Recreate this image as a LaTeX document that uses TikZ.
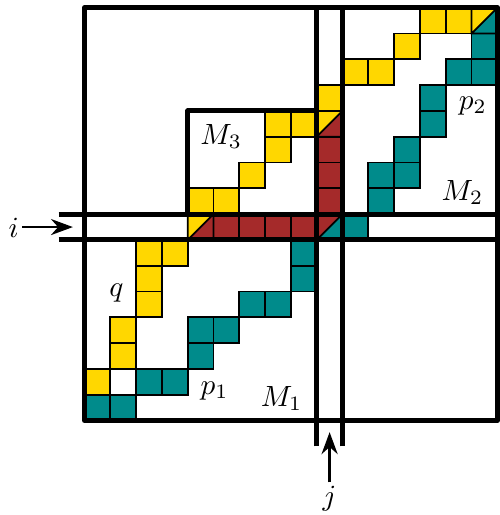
\documentclass[tikz,border=0pt]{standalone}
\usepackage{tikz}
\usetikzlibrary{arrows.meta}
\definecolor{qyellow}{RGB}{255,215,0}
\definecolor{pteal}{RGB}{0,139,139}
\definecolor{mred}{RGB}{165,42,42}
\tikzset{
	cellbox/.style={draw, semithick},
	wall/.style={line width=1.7pt, line join=round}
}
\tikzset{
	lbl/.style={inner sep=1pt}
}
% half-filled cell: #1,#2 = lower-left corner, #3 upper colour, #4 lower colour
\newcommand{\halfcell}[4]{%
  \fill[#3] (#1,#2) -- ++(0,1) -- ++(1,0) -- cycle;
  \fill[#4] (#1,#2) -- ++(1,0) -- ++(0,1) -- cycle;
  \draw[semithick] (#1,#2) rectangle ++(1,1) (#1,#2) -- ++(1,1);
}

\begin{document}
\begin{tikzpicture}[x=0.31cm, y=0.31cm, >={Stealth[length=7.5pt, width=5.5pt]}]
      \useasboundingbox (-3.275,-3.66) rectangle (16.1,16.3);
      % path q
      \foreach \c/\r in {0/1,1/2,1/3,2/4,2/5,2/6,3/6,4/8,5/8,6/9,7/10,7/11,8/11,9/12,10/13,11/13,12/14,13/15,14/15}
        \draw[cellbox, fill=qyellow] (\c,\r) rectangle ++(1,1);
      % path p
      \foreach \c/\r in {0/0,1/0,2/1,3/1,4/2,4/3,5/3,6/4,7/4,8/5,8/6,10/7,11/8,11/9,12/9,12/10,13/11,13/12,14/13,15/13,15/14}
        \draw[cellbox, fill=pteal] (\c,\r) rectangle ++(1,1);
      % shared part
      \foreach \c/\r in {5/7,6/7,7/7,8/7,9/8,9/9,9/10}
        \draw[cellbox, fill=mred] (\c,\r) rectangle ++(1,1);
      \halfcell{4}{7}{qyellow}{mred}
      \halfcell{9}{7}{mred}{pteal}
      \halfcell{9}{11}{qyellow}{mred}
      \halfcell{15}{15}{qyellow}{pteal}
      % blocks and bands
      \draw[wall] (0,0) rectangle (16,16);
      \draw[wall] (4,8) -- (4,12) -- (9,12);
      \draw[wall] (-1,7) -- (16,7) (-1,8) -- (16,8);
      \draw[wall] (9,-1) -- (9,16) (10,-1) -- (10,16);
      % labels
      \node (m1) at (7.64,0.85) {$M_1$};
      \node (m2) at (14.65,8.84) {$M_2$};
      \node (m3) at (5.3,11.0) {$M_3$};
      \node (q) at (1.24,4.96) {$q$};
      \node (p1) at (5.04,1.16) {$p_1$};
      \node (p2) at (15.05,12.2) {$p_2$};
      \node[lbl] (i) at (-2.75,7.45) {$i$};
      \node[lbl] (j) at (9.5,-3.02) {$j$};
      \coordinate (iend) at (-0.45,7.5);
      \coordinate (jend) at (9.5,-0.45);
      \draw[thick, ->] (i.east |- iend) -- (iend);
      \draw[thick, ->] (j) -- (jend);
    \end{tikzpicture}
\end{document}
